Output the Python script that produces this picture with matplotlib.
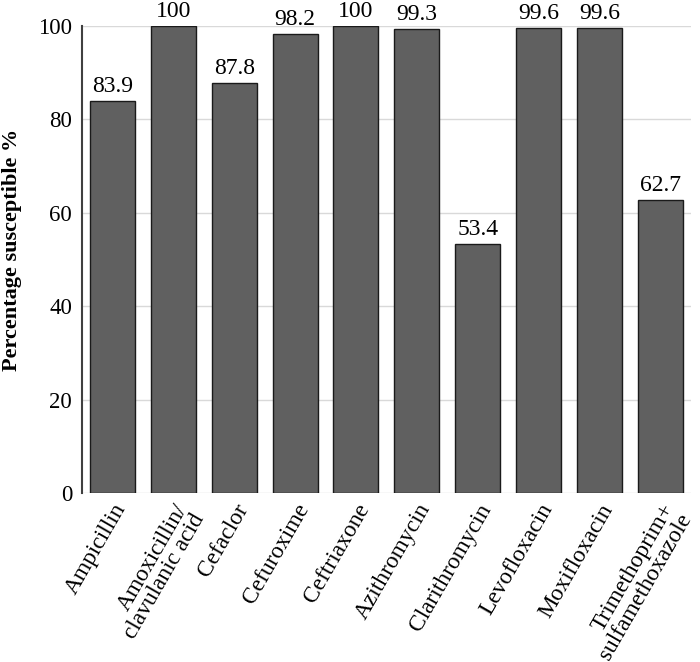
import numpy as np
import matplotlib.pyplot as plt

drugs = ["Ampicillin", "Amoxicillin/\nclavulanic acid", "Cefaclor", "Cefuroxime",
         "Ceftriaxone", "Azithromycin", "Clarithromycin", "Levofloxacin",
         "Moxifloxacin", "Trimethoprim+\nsulfamethoxazole"]
susceptible = [83.9, 100, 87.8, 98.2, 100, 99.3, 53.4, 99.6, 99.6, 62.7]
value_labels = ["83.9", "100", "87.8", "98.2", "100", "99.3", "53.4", "99.6", "99.6", "62.7"]

plt.rcParams['font.family'] = ['Liberation Serif', 'DejaVu Serif']

fig = plt.figure(figsize=(7, 6.62), dpi=100)
ax = fig.add_axes([0.117, 0.255, 0.87, 0.706])

x = np.arange(len(drugs))
bars = ax.bar(x, susceptible, width=0.74, color="#606060", edgecolor="#1a1a1a",
              linewidth=1, zorder=3)
for b, lab in zip(bars, value_labels):
    ax.text(b.get_x() + b.get_width() / 2, b.get_height() + 0.8, lab,
            ha="center", va="bottom", fontsize=17)

ax.set_xlim(-0.5, 9.5)
ax.set_ylim(0, 100)
ax.set_yticks([0, 20, 40, 60, 80, 100])
ax.yaxis.grid(True, color="#d9d9d9", linewidth=1, zorder=0)
ax.set_axisbelow(True)
ax.set_xticks(x)
ax.set_xticklabels(drugs, rotation=60, ha="right", rotation_mode="anchor",
                   fontsize=16.8, linespacing=0.92)
ax.tick_params(axis="y", length=0, labelsize=16.5, pad=7)
ax.tick_params(axis="x", length=0, pad=5)
ax.set_ylabel("Percentage susceptible %", fontsize=16, fontweight="bold")
ax.yaxis.set_label_coords(-0.098, 0.52)

for s in ["top", "right", "bottom"]:
    ax.spines[s].set_visible(False)
ax.spines["left"].set_color("#404040")
ax.spines["left"].set_linewidth(1.5)

fig.savefig("out.png", dpi=100)
